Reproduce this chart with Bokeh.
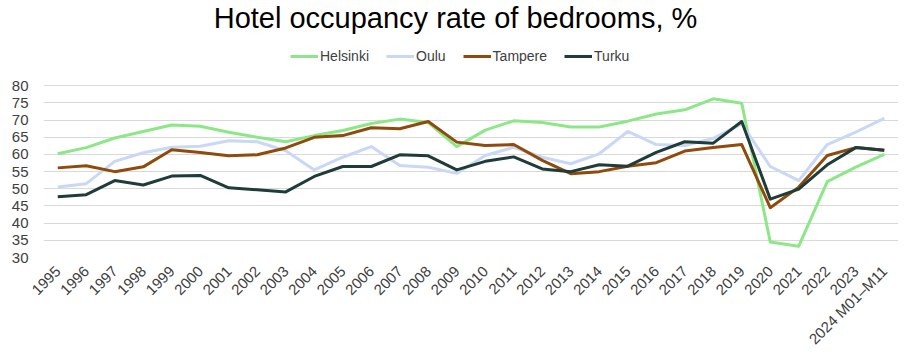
from bokeh.plotting import figure
from bokeh.models import Range1d, FactorRange, Legend, LegendItem, FixedTicker, ColumnDataSource, Label
from bokeh.embed import file_html
from bokeh.resources import INLINE
import math

years = [str(y) for y in range(1995, 2024)] + ["2024 M01\u2013M11"]

helsinki = [60.2, 62.0, 64.8, 66.7, 68.6, 68.2, 66.5, 65.0, 63.7, 65.5, 67.0, 69.0, 70.3, 69.3, 62.3,
            67.1, 69.8, 69.3, 68.0, 68.0, 69.7, 71.8, 73.0, 76.2, 74.9, 34.5, 33.3, 52.1, 56.3, 60.0]
oulu = [50.5, 51.5, 58.0, 60.5, 62.1, 62.4, 64.0, 63.7, 61.1, 55.5, 59.2, 62.3, 56.8, 56.3, 54.5,
        59.7, 62.1, 59.2, 57.3, 60.2, 66.7, 62.9, 62.6, 64.7, 68.9, 56.5, 52.4, 62.9, 66.5, 70.5]
tampere = [56.1, 56.7, 55.0, 56.4, 61.4, 60.6, 59.6, 59.9, 61.9, 65.0, 65.5, 67.8, 67.5, 69.6, 63.6,
           62.6, 62.9, 58.3, 54.4, 55.0, 56.6, 57.6, 61.0, 62.0, 62.9, 44.5, 50.5, 59.7, 62.0, 61.2]
turku = [47.7, 48.3, 52.4, 51.1, 53.7, 53.9, 50.3, 49.7, 49.1, 53.6, 56.5, 56.5, 59.9, 59.6, 55.5,
         58.0, 59.3, 55.8, 55.0, 57.0, 56.6, 60.6, 63.7, 63.3, 69.6, 47.0, 49.9, 57.0, 62.0, 61.2]

series_names = ["Helsinki", "Oulu", "Tampere", "Turku"]
series_values = [helsinki, oulu, tampere, turku]
colors = ["#8ce886", "#c8d8f5", "#8f4a0c", "#1f3c38"]
y_ticks = [30, 35, 40, 45, 50, 55, 60, 65, 70, 75, 80]
title_text = "Hotel occupancy rate of bedrooms, %"

FONT = "Liberation Sans"

# frame spans the header too; 30..80 occupies the lower 171.7 px of a 257 px frame
Y_MIN = 30
Y_TOP = 30 + 257 / (171.7 / 50)

p = figure(width=910, height=363, output_backend="svg", toolbar_location=None,
           x_range=FactorRange(factors=years, range_padding=0),
           y_range=Range1d(Y_MIN, Y_TOP),
           min_border_left=43, min_border_right=12, min_border_top=0, min_border_bottom=106)

p.outline_line_color = None
p.background_fill_color = "white"
p.border_fill_color = "white"

renderers = []
for name, vals, col in zip(series_names, series_values, colors):
    src = ColumnDataSource(dict(x=years, y=vals))
    r = p.line("x", "y", source=src, line_color=col, line_width=3, line_join="round")
    renderers.append((name, r))

legend = Legend(items=[LegendItem(label=n, renderers=[r]) for n, r in renderers],
                orientation="horizontal", location=(247, 193),
                label_text_font=FONT, label_text_font_size="14px", label_text_color="#404040",
                glyph_width=28, glyph_height=14, label_standoff=2, spacing=17,
                padding=0, margin=0, border_line_color=None, background_fill_alpha=0)
p.add_layout(legend, "center")

title = Label(x=412, y=240, x_units="screen", y_units="screen", text=title_text,
              text_font=FONT, text_font_size="29px", text_color="#000000",
              text_align="center", text_baseline="middle")
p.add_layout(title)

p.yaxis.ticker = FixedTicker(ticks=y_ticks)
p.yaxis.axis_line_color = None
p.yaxis.major_tick_line_color = None
p.yaxis.minor_tick_line_color = None
p.yaxis.major_label_text_font = FONT
p.yaxis.major_label_text_font_size = "15px"
p.yaxis.major_label_text_color = "#404040"
p.yaxis.major_label_standoff = 9

p.xaxis.axis_line_color = None
p.xaxis.major_tick_line_color = None
p.xaxis.minor_tick_line_color = None
p.xaxis.major_label_orientation = math.pi / 4
p.xaxis.major_label_text_font = FONT
p.xaxis.major_label_text_font_size = "15px"
p.xaxis.major_label_text_color = "#404040"
p.xaxis.major_label_standoff = 5

p.xgrid.grid_line_color = None
p.ygrid.grid_line_color = "#d9d9d9"
p.ygrid.grid_line_width = 1

open("out.html", "w").write(file_html(p, INLINE))
